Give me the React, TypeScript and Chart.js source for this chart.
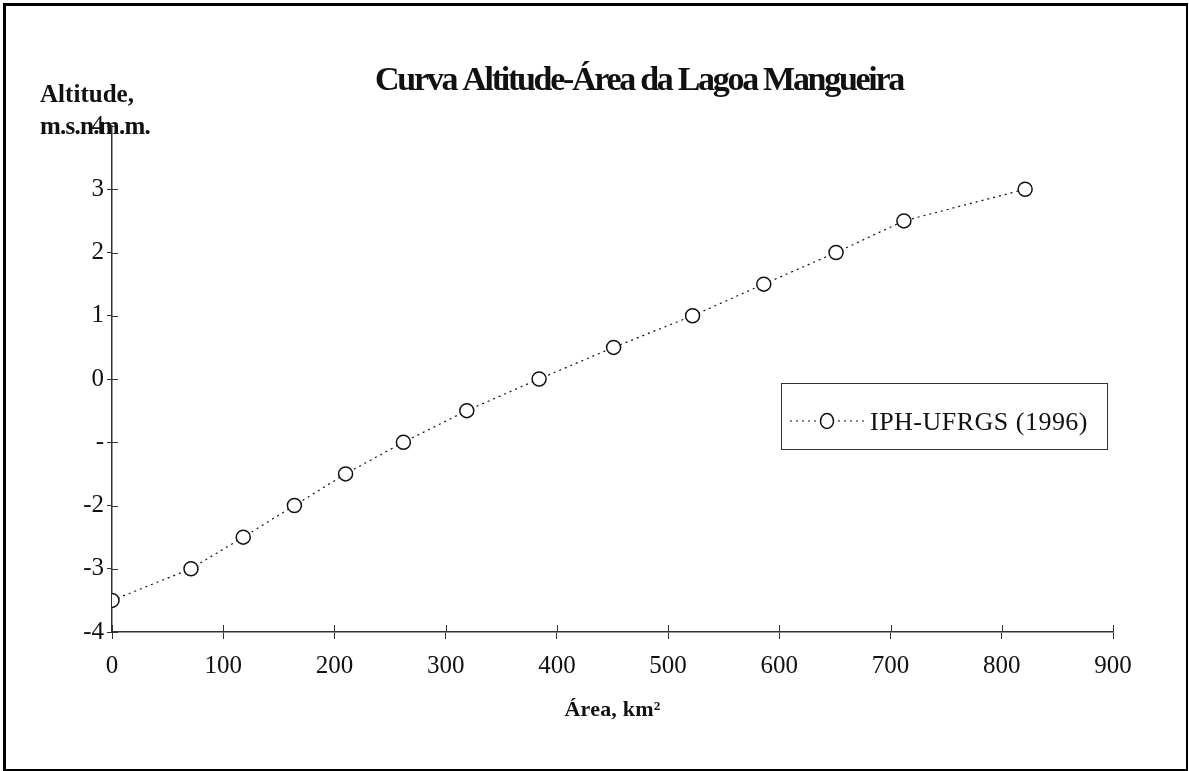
import React, { useEffect, useRef } from "react";
import { Chart, registerables } from "chart.js";

Chart.register(...registerables);

// ---- data ----
const areaKm2 = [0, 71, 118, 164, 210, 262, 319, 384, 451, 522, 586, 651, 712, 821];
const altitudeM = [-3.5, -3, -2.5, -2, -1.5, -1, -0.5, 0, 0.5, 1, 1.5, 2, 2.5, 3];
const xTickLabels = ["0", "100", "200", "300", "400", "500", "600", "700", "800", "900"];
const yTickLabels = ["-4", "-3", "-2", "-", "0", "1", "2", "3", "4"];
const chartTitle = "Curva Altitude-Área da Lagoa Mangueira";
const yAxisTitle = ["Altitude,", "m.s.n.m.m."];
const xAxisTitle = "Área, km²";
const seriesName = "IPH-UFRGS (1996)";

const SERIF = '"Liberation Serif", "Times New Roman", serif';
const INK = "#111";
const AXIS = "#333";

function fitText(ctx: CanvasRenderingContext2D, text: string, x: number, y: number, width: number, align: "left" | "center") {
  (ctx as any).letterSpacing = "0px";
  const w = ctx.measureText(text).width;
  const ls = (width - w) / text.length;
  (ctx as any).letterSpacing = ls + "px";
  ctx.textAlign = "left";
  const sx = align === "center" ? x - width / 2 : x;
  ctx.fillText(text, sx, y);
  (ctx as any).letterSpacing = "0px";
}

const overlayPlugin = {
  id: "overlay",
  afterDraw(chart: any) {
    const ctx: CanvasRenderingContext2D = chart.ctx;
    const xs = chart.scales.x;
    const ys = chart.scales.y;
    ctx.save();
    // inward halves of the crossing tick marks
    ctx.strokeStyle = AXIS;
    ctx.lineWidth = 1;
    ctx.beginPath();
    ys.ticks.forEach((t: any) => {
      const py = Math.round(ys.getPixelForValue(t.value)) + 0.5;
      ctx.moveTo(xs.left, py);
      ctx.lineTo(xs.left + 6, py);
    });
    xs.ticks.forEach((t: any) => {
      const px = Math.round(xs.getPixelForValue(t.value)) + 0.5;
      ctx.moveTo(px, ys.bottom);
      ctx.lineTo(px, ys.bottom - 7);
    });
    ctx.stroke();

    // title
    ctx.fillStyle = INK;
    ctx.textBaseline = "alphabetic";
    ctx.font = `bold 34px ${SERIF}`;
    fitText(ctx, chartTitle, 375, 90, 528, "left");

    // y axis title (two lines, top-left)
    ctx.font = `bold 25px ${SERIF}`;
    fitText(ctx, yAxisTitle[0], 40, 102, 94, "left");
    fitText(ctx, yAxisTitle[1], 40, 134, 110, "left");

    // x axis title
    ctx.font = `bold 22px ${SERIF}`;
    fitText(ctx, xAxisTitle, (xs.left + xs.right) / 2, 716, 96, "center");

    // legend box
    const lx = 781, ly = 383, lw = 326, lh = 66;
    ctx.strokeStyle = AXIS;
    ctx.lineWidth = 1;
    ctx.fillStyle = "#fff";
    ctx.fillRect(lx, ly, lw, lh);
    ctx.strokeRect(lx + 0.5, ly + 0.5, lw, lh);
    const my = ly + 38;
    ctx.strokeStyle = INK;
    ctx.lineWidth = 1.2;
    ctx.setLineDash([2, 4]);
    ctx.beginPath();
    ctx.moveTo(790, my);
    ctx.lineTo(866, my);
    ctx.stroke();
    ctx.setLineDash([]);
    ctx.beginPath();
    ctx.ellipse(827, my, 6.5, 7.5, 0, 0, Math.PI * 2);
    ctx.fillStyle = "#fff";
    ctx.fill();
    ctx.lineWidth = 1.5;
    ctx.stroke();
    ctx.fillStyle = INK;
    ctx.font = `26px ${SERIF}`;
    fitText(ctx, seriesName, 870, my + 9, 218, "left");
    ctx.restore();
  },
};

export default function App() {
  const ref = useRef<HTMLCanvasElement | null>(null);

  useEffect(() => {
    document.body.style.margin = "0";
    const canvas = ref.current!;
    const chart = new Chart(canvas, {
      type: "line",
      data: {
        datasets: [
          {
            label: seriesName,
            data: areaKm2.map((a, i) => ({ x: a, y: altitudeM[i] })),
            borderColor: INK,
            borderWidth: 1.2,
            borderDash: [2, 4],
            tension: 0,
            fill: false,
            pointStyle: "circle",
            pointRadius: 7,
            pointBorderWidth: 1.5,
            pointBorderColor: INK,
            pointBackgroundColor: "#fff",
          },
        ],
      },
      options: {
        animation: false,
        responsive: false,
        devicePixelRatio: 1,
        layout: { padding: { left: 12, right: 76, top: 126, bottom: 79 } },
        plugins: {
          legend: { display: false },
          title: { display: false },
          tooltip: { enabled: false },
        },
        scales: {
          x: {
            type: "linear",
            position: "bottom",
            min: 0,
            max: 900,
            ticks: {
              stepSize: 100,
              color: INK,
              padding: 12,
              font: { family: SERIF, size: 25 },
              callback: (_v: any, i: number) => xTickLabels[i],
            },
            grid: { drawOnChartArea: false, drawTicks: true, tickLength: 7, color: AXIS, lineWidth: 1 },
            border: { display: true, color: AXIS, width: 1.5 },
            afterFit: (s: any) => {
              s.height = 60;
            },
          },
          y: {
            type: "linear",
            min: -4,
            max: 4,
            ticks: {
              stepSize: 1,
              color: INK,
              padding: 3,
              font: { family: SERIF, size: 25 },
              callback: (_v: any, i: number) => yTickLabels[i],
            },
            grid: { drawOnChartArea: false, drawTicks: true, tickLength: 5, color: AXIS, lineWidth: 1 },
            border: { display: true, color: AXIS, width: 1.5 },
            afterFit: (s: any) => {
              s.width = 100;
            },
          },
        },
      },
      plugins: [overlayPlugin],
    });
    return () => chart.destroy();
  }, []);

  return (
    <div style={{ position: "relative", width: 1189, height: 771, background: "#fff" }}>
      <canvas ref={ref} width={1189} height={771} style={{ position: "absolute", left: 0, top: 0 }} />
      <div
        style={{
          position: "absolute",
          left: 3,
          top: 3,
          width: 1180,
          height: 763,
          borderLeft: "3px solid #000",
          borderTop: "3px solid #000",
          borderRight: "2px solid #000",
          borderBottom: "2px solid #000",
          pointerEvents: "none",
        }}
      />
    </div>
  );
}
